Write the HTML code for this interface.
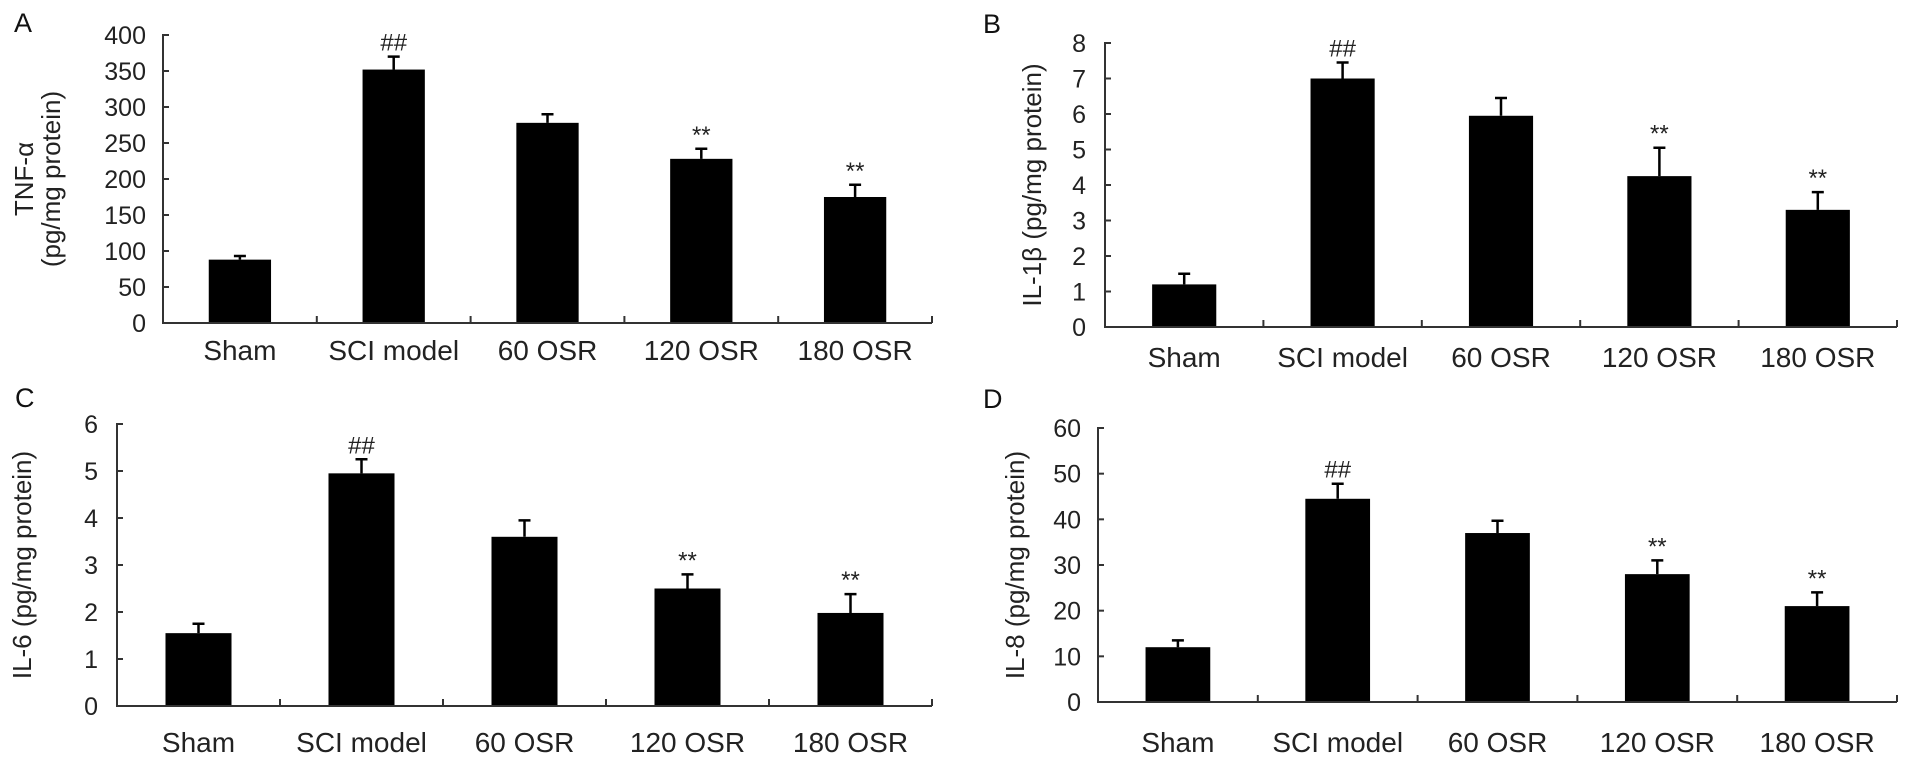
<!DOCTYPE html>
<html><head><meta charset="utf-8"><style>
html,body{margin:0;padding:0;background:#fff;}
svg{display:block;font-family:"Liberation Sans",Arial,sans-serif;}
</style></head><body>
<svg id="fig" width="1910" height="769" viewBox="0 0 1910 769"></svg>
<script>
const categories = ["Sham","SCI model","60 OSR","120 OSR","180 OSR"];
const tnfValues = [88,352,278,228,175];
const tnfErrors = [5,18,12,14,17];
const il1bValues = [1.2,7.0,5.95,4.25,3.3];
const il1bErrors = [0.3,0.45,0.5,0.8,0.5];
const il6Values = [1.55,4.95,3.6,2.5,1.98];
const il6Errors = [0.2,0.3,0.35,0.3,0.4];
const il8Values = [12,44.5,37,28,21];
const il8Errors = [1.5,3.3,2.7,3,3];
const tnfTicks = [0,50,100,150,200,250,300,350,400];
const il1bTicks = [0,1,2,3,4,5,6,7,8];
const il6Ticks = [0,1,2,3,4,5,6];
const il8Ticks = [0,10,20,30,40,50,60];
const marks = ["","##","","**","**"];

const NS="http://www.w3.org/2000/svg";
const svg=document.getElementById('fig');
function mk(tag,attrs,parent,text){const e=document.createElementNS(NS,tag);for(const k in attrs)e.setAttribute(k,attrs[k]);if(text!==undefined)e.textContent=text;(parent||svg).appendChild(e);return e;}

function panel(p){
  const g=mk('g',{});
  
  
  const max=p.ticks[p.ticks.length-1];
  const y=v=>p.y0-(v/max)*(p.y0-p.yTop);
  const cw=(p.x1-p.x0)/categories.length;
  const xc=i=>p.x0+cw*(i+0.5);
  const bw=cw*0.405;
  const L=mk('text',{x:p.lx,y:p.ly,'font-size':27,fill:'#111'},g,p.letter);
  
  
  categories.forEach((c,i)=>{
    const v=p.values[i],e=p.errors[i];
    const b=mk('rect',{x:xc(i)-bw/2,y:y(v),width:bw,height:p.y0-y(v),fill:'#000'},g);
    
    
    const eb=mk('path',{d:`M${xc(i)},${y(v)} V${y(v+e)} M${xc(i)-6},${y(v+e)} H${xc(i)+6}`,stroke:'#000','stroke-width':2.5,fill:'none'},g);
    
    
    if(marks[i]){
      const m=mk('text',{x:xc(i),y:y(v+e)-6,'text-anchor':'middle','font-size':24,fill:'#222'},g,marks[i]);
      
      
    }
    const t=mk('text',{x:xc(i),y:p.labY,'text-anchor':'middle','font-size':28,fill:'#222'},g,c);
    
    
  });
  const ax=mk('path',{d:`M${p.x0+6},${p.yTop} H${p.x0} V${p.y0} H${p.x1}`,stroke:'#333','stroke-width':2,fill:'none'},g);
  
  
  for(let i=1;i<=categories.length;i++){
    mk('line',{x1:p.x0+cw*i,x2:p.x0+cw*i,y1:p.y0,y2:p.y0-7,stroke:'#333','stroke-width':2},g);
  }
  p.ticks.forEach(t=>{
    mk('line',{x1:p.x0,x2:p.x0+6,y1:y(t),y2:y(t),stroke:'#333','stroke-width':2},g);
    const tl=mk('text',{x:p.tx,y:y(t)+9,'text-anchor':'end','font-size':25,fill:'#222'},g,String(t));
    
    
  });
  p.ylab.forEach((s,k)=>{
    const yx=p.ylx+k*27;
    const yl=mk('text',{x:yx,y:(p.yTop+p.y0)/2,'text-anchor':'middle','font-size':26,fill:'#222',transform:`rotate(-90 ${yx} ${(p.yTop+p.y0)/2})`},g,s);
    
    
  });
}
panel({letter:'A',lx:14,ly:32,x0:163,x1:932,yTop:35,y0:323,tx:146,labY:360,ticks:tnfTicks,values:tnfValues,errors:tnfErrors,ylab:['TNF-α','(pg/mg protein)'],ylx:33});
panel({letter:'B',lx:983,ly:33,x0:1105,x1:1897,yTop:43,y0:327,tx:1086,labY:367,ticks:il1bTicks,values:il1bValues,errors:il1bErrors,ylab:['IL-1β (pg/mg protein)'],ylx:1041});
panel({letter:'C',lx:15,ly:407,x0:117,x1:932,yTop:424,y0:706,tx:98,labY:752,ticks:il6Ticks,values:il6Values,errors:il6Errors,ylab:['IL-6 (pg/mg protein)'],ylx:31});
panel({letter:'D',lx:983,ly:408,x0:1098,x1:1897,yTop:428,y0:702,tx:1081,labY:752,ticks:il8Ticks,values:il8Values,errors:il8Errors,ylab:['IL-8 (pg/mg protein)'],ylx:1024});
</script>
</body></html>
